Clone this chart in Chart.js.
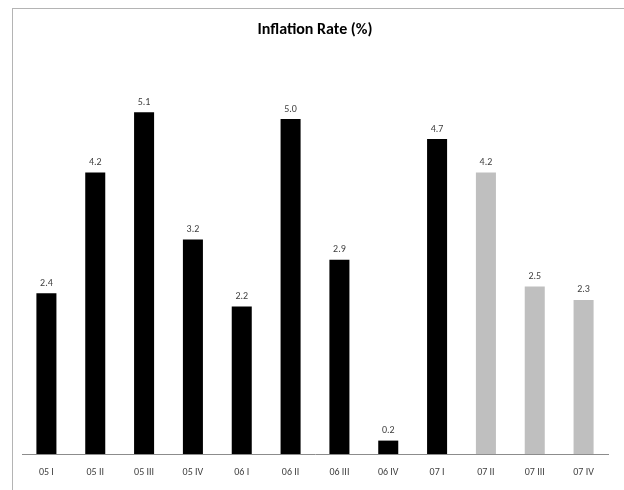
<!DOCTYPE html>
<html>
<head>
<meta charset="utf-8">
<script src="https://cdn.jsdelivr.net/npm/chart.js@4"></script>
<style>
  html, body { margin: 0; padding: 0; background: #ffffff; overflow: hidden; }
  #wrap { position: relative; width: 624px; height: 490px; overflow: hidden; }
  #frame { position: absolute; left: 12px; top: 8px; width: 700px; height: 600px;
           border-left: 1px solid #b4b4b4; border-top: 1px solid #b4b4b4; box-sizing: border-box; }
  canvas { position: absolute; left: 0; top: 0; }
</style>
</head>
<body>
<div id="wrap">
  <div id="frame"></div>
  <canvas id="chart" width="624" height="490"></canvas>
</div>
<script>
// Quarterly inflation rate, 2005 Q1 to 2007 Q4
const quarters = ['05 I', '05 II', '05 III', '05 IV', '06 I', '06 II', '06 III', '06 IV', '07 I', '07 II', '07 III', '07 IV'];
const inflation = [2.4, 4.2, 5.1, 3.2, 2.2, 5.0, 2.9, 0.2, 4.7, 4.2, 2.5, 2.3];
// last three quarters are forecasts
const isForecast = [false, false, false, false, false, false, false, false, false, true, true, true];

const FONT = "Carlito, 'Liberation Sans Narrow', Lato, sans-serif";

const valueLabels = {
  id: 'valueLabels',
  afterDatasetsDraw(chart) {
    const ctx = chart.ctx;
    const meta = chart.getDatasetMeta(0);
    ctx.save();
    ctx.font = '10px ' + FONT;
    ctx.fillStyle = '#404040';
    ctx.textAlign = 'center';
    ctx.textBaseline = 'middle';
    meta.data.forEach((bar, i) => {
      ctx.fillText(inflation[i].toFixed(1), bar.x, bar.y - 10);
    });
    ctx.restore();
  }
};

new Chart(document.getElementById('chart'), {
  type: 'bar',
  data: {
    labels: quarters,
    datasets: [{
      data: inflation,
      backgroundColor: isForecast.map(f => f ? '#bfbfbf' : '#000000'),
      borderWidth: 0,
      barPercentage: 0.41,
      categoryPercentage: 1.0
    }]
  },
  options: {
    responsive: false,
    animation: false,
    devicePixelRatio: 1,
    layout: { padding: { left: 22, right: 16, top: 0, bottom: 0 } },
    plugins: {
      legend: { display: false },
      tooltip: { enabled: false },
      title: {
        display: true,
        text: 'Inflation Rate (%)',
        color: '#000000',
        font: { family: FONT, size: 16, weight: 'bold', lineHeight: 1.2 },
        padding: { top: 20, bottom: 12.8 }
      }
    },
    scales: {
      x: {
        grid: { display: false, drawTicks: false },
        border: { display: true, color: '#8c8c8c', width: 1 },
        ticks: { color: '#404040', font: { family: FONT, size: 10 }, padding: 12, maxRotation: 0, autoSkip: false },
        afterFit(scale) { scale.height = 36; }
      },
      y: {
        display: false,
        min: 0,
        max: 6
      }
    }
  },
  plugins: [valueLabels]
});
</script>
</body>
</html>
